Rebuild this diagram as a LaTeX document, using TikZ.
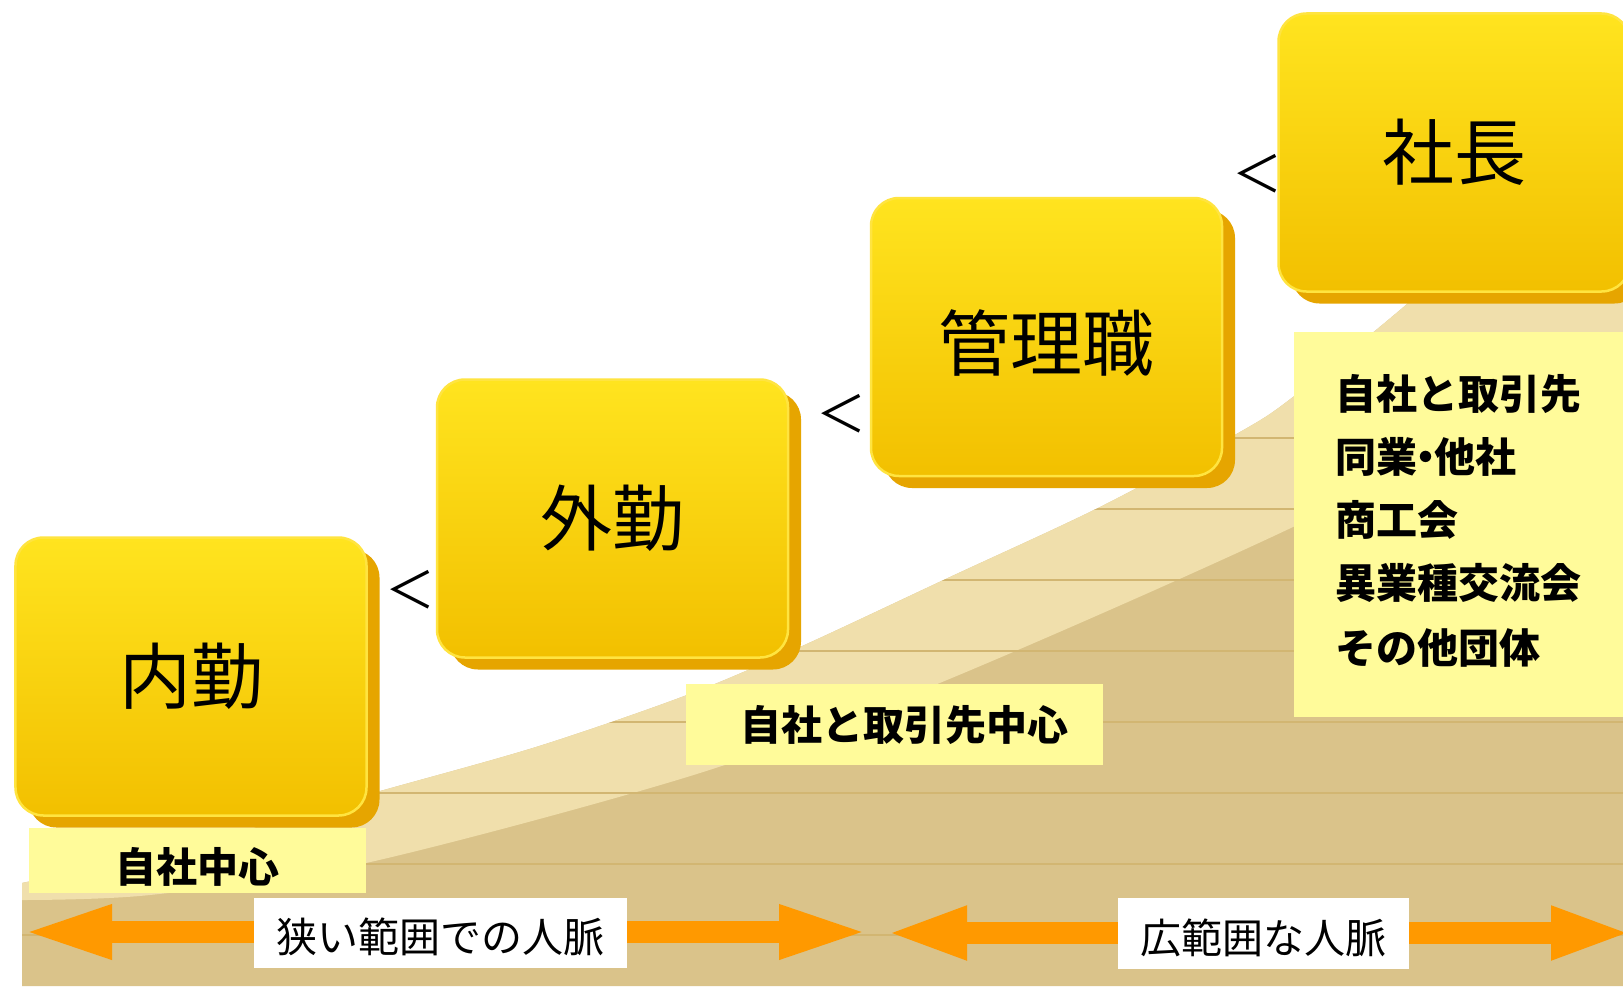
\documentclass[tikz,border=0pt]{standalone}
\usepackage{fontspec}
\newfontfamily\jp{Noto Sans CJK JP}
\usetikzlibrary{shadows,arrows.meta}
\definecolor{boxtop}{HTML}{FFE41F}
\definecolor{boxbot}{HTML}{F2C000}
\definecolor{boxrim}{HTML}{FFE440}
\definecolor{boxshadow}{HTML}{E6A500}
\definecolor{labyel}{HTML}{FFFB9A}
\definecolor{arrowor}{HTML}{FF9900}
\definecolor{tanbg}{HTML}{DAC38A}
\definecolor{creambg}{HTML}{F0DFAC}
\definecolor{ruleline}{HTML}{D2B672}
\newcommand{\lowertext}[2]{\raisebox{-#1}[\height][\depth]{#2}}
\begin{document}
\begin{tikzpicture}[x=1bp,y=-1bp,
  stepface/.style={rectangle, rounded corners=28bp, minimum width=351bp, minimum height=278bp,
    top color=boxtop, bottom color=boxbot, draw=boxrim, line width=2.5bp,
    general shadow={shadow xshift=13bp, shadow yshift=-12bp, fill=boxshadow},
    font=\jp\fontsize{72bp}{80bp}\selectfont, inner sep=0},
  yellab/.style={rectangle, fill=labyel, inner sep=0, font=\jp\bfseries\fontsize{41bp}{45bp}\selectfont},
  listline/.style={anchor=west, inner sep=0, font=\jp\bfseries\fontsize{41bp}{45bp}\selectfont},
  whitelab/.style={rectangle, fill=white, inner sep=0, font=\jp\fontsize{41bp}{45bp}\selectfont},
  ltsign/.style={inner sep=0, font=\jp\fontsize{50bp}{52bp}\selectfont},
  blockarrow/.style={draw=arrowor, line width=22bp,
    {Triangle[length=92bp,width=48bp]}-{Triangle[length=92bp,width=48bp]}},
  blockarrowb/.style={draw=arrowor, line width=22bp,
    {Triangle[length=82bp,width=48bp]}-{Triangle[length=82bp,width=48bp]}}
]
\useasboundingbox (0,0) rectangle (1623,986);
\clip (0,0) rectangle (1623,986);
\fill[white] (0,0) rectangle (1623,986);

% background rising area
\fill[tanbg] plot[smooth] coordinates {(22,883) (200,843) (366,795) (536,747) (687,695) (800,647) (950,577) (1100,507) (1240,432) (1293,397) (1400,310) (1500,222) (1623,105)}
  -- (1623,986) -- (22,986) -- cycle;
\fill[creambg] plot[smooth] coordinates {(22,883) (200,843) (366,795) (536,747) (687,695) (800,647) (950,577) (1100,507) (1240,432) (1293,397) (1400,310) (1500,222) (1623,105)}
  -- plot[smooth] coordinates {(1623,360) (1293,527) (947,680) (700,773) (366,863) (150,895) (22,900)} -- cycle;
\begin{scope}
  \clip plot[smooth] coordinates {(22,883) (200,843) (366,795) (536,747) (687,695) (800,647) (950,577) (1100,507) (1240,432) (1293,397) (1400,310) (1500,222) (1623,105)}
  -- (1623,986) -- (22,986) -- cycle;
  \foreach \yy in {225,296,367,438,509,580,651,722,793,864,935}
    \draw[ruleline, line width=1.2bp] (0,\yy) -- (1623,\yy);
\end{scope}

% arrows
\coordinate (a1l) at (20,932);
\coordinate (a1r) at (871,932);
\coordinate (a2l) at (885,933);
\coordinate (a2r) at (1633,933);
\draw[blockarrow] (a1l) -- (a1r);
\draw[blockarrowb] (a2l) -- (a2r);

% white labels
\node[whitelab, minimum width=373bp, minimum height=70bp] (narrow) at (440.5,933) {\lowertext{4bp}{狭い範囲での人脈}};
\node[whitelab, minimum width=291bp, minimum height=71bp] (wide) at (1263.5,933.5) {\lowertext{4bp}{広範囲な人脈}};

% yellow labels
\node[yellab, minimum width=337bp, minimum height=65bp] (ownc) at (197.5,860.5) {\lowertext{6bp}{自社中心}};
\node[yellab, minimum width=417bp, minimum height=81bp] (ownp) at (894.5,724.5) {\hspace*{20bp}自社と取引先中心};
\node[yellab, minimum width=335bp, minimum height=385bp] (listbox) at (1461.5,524.5) {};
\node[listline] (l1) at (1335,394) {自社と取引先};
\node[listline] (l2) at (1335,457) {同業\hspace{-12bp}・\hspace{-12bp}他社};
\node[listline] (l3) at (1335,520) {商工会};
\node[listline] (l4) at (1335,583) {異業種交流会};
\node[listline] (l5) at (1335,648) {その他団体};

% step boxes
\node[stepface] (naikin) at (191,676.5) {内勤};
\node[stepface] (gaikin) at (612.5,518.5) {外勤};
\node[stepface] (kanri) at (1046.5,337) {\lowertext{6bp}{管理職}};
\node[stepface] (shacho) at (1454,152.5) {社長};

% comparison signs
\node[ltsign] (lt1) at (410,590) {＜};
\node[ltsign] (lt2) at (841,414) {＜};
\node[ltsign] (lt3) at (1257,174) {＜};
\end{tikzpicture}
\end{document}
